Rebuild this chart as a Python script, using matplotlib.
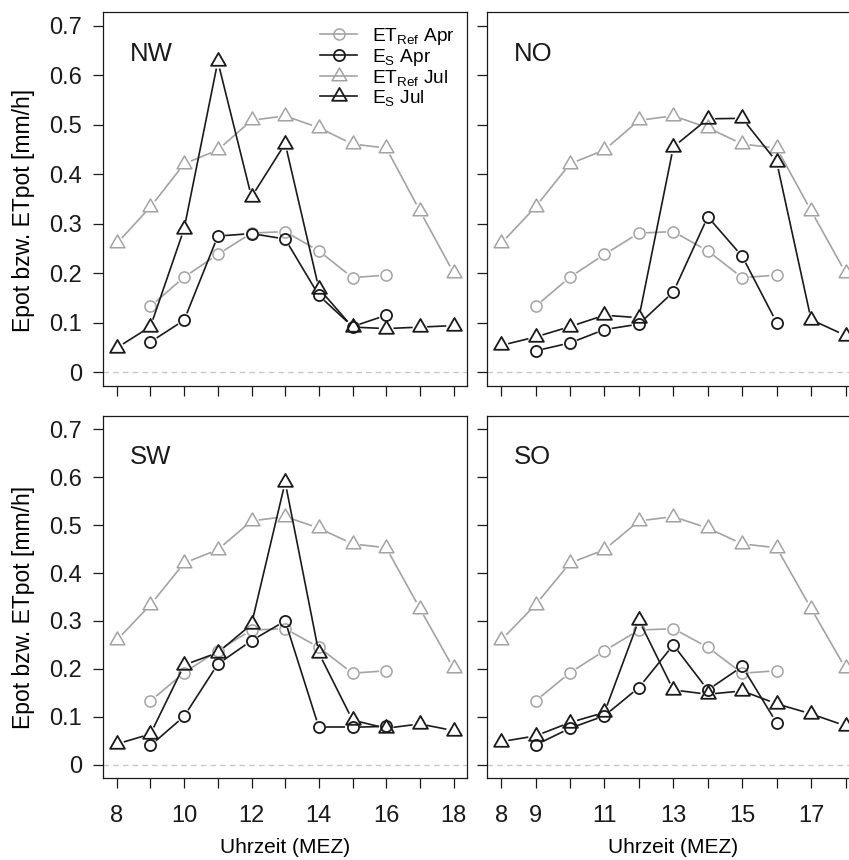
import numpy as np
import matplotlib.pyplot as plt
from matplotlib.path import Path
from matplotlib.lines import Line2D

plt.rcParams['font.family'] = ['Liberation Sans', 'DejaVu Sans']
plt.rcParams['mathtext.default'] = 'regular'

# Stunden (MEZ)
hours_apr = [9, 10, 11, 12, 13, 14, 15, 16]
hours_jul = [8, 9, 10, 11, 12, 13, 14, 15, 16, 17, 18]

# Referenzverdunstung (gleich fuer alle Expositionen)
etref_apr = [0.133, 0.192, 0.238, 0.281, 0.284, 0.245, 0.191, 0.196]
etref_jul = [0.260, 0.334, 0.421, 0.449, 0.509, 0.518, 0.494, 0.461, 0.453, 0.326, 0.201]

# E_S je Exposition
es_apr_nw = [0.061, 0.105, 0.275, 0.280, 0.269, 0.155, 0.092, 0.115]
es_jul_nw = [0.049, 0.092, 0.290, 0.628, 0.354, 0.462, 0.169, 0.091, 0.088, 0.091, 0.094]

es_apr_no = [0.043, 0.059, 0.086, 0.097, 0.162, 0.314, 0.234, 0.100]
es_jul_no = [0.054, 0.071, 0.092, 0.115, 0.110, 0.455, 0.512, 0.513, 0.425, 0.106, 0.074]

es_apr_sw = [0.040, 0.101, 0.210, 0.259, 0.300, 0.078, 0.078, 0.080]
es_jul_sw = [0.043, 0.064, 0.208, 0.234, 0.293, 0.590, 0.233, 0.093, 0.076, 0.085, 0.071]

es_apr_so = [0.041, 0.076, 0.102, 0.161, 0.250, 0.156, 0.205, 0.087]
es_jul_so = [0.048, 0.060, 0.088, 0.109, 0.302, 0.156, 0.147, 0.154, 0.127, 0.106, 0.081]

panels = ['NW', 'NO', 'SW', 'SO']
es_apr = [es_apr_nw, es_apr_no, es_apr_sw, es_apr_so]
es_jul = [es_jul_nw, es_jul_no, es_jul_sw, es_jul_so]

yticks = [0, 0.1, 0.2, 0.3, 0.4, 0.5, 0.6, 0.7]
ytick_labels = ['0', '0.1', '0.2', '0.3', '0.4', '0.5', '0.6', '0.7']
xticks = list(range(8, 19))
xlabels_left = [8, 10, 12, 14, 16, 18]
xlabels_right = [8, 9, 11, 13, 15, 17]

GRAY = '#a3a3a3'
BLACK = '#1a1a1a'

tri = Path([(0, 1), (-0.866, -0.5), (0.866, -0.5), (0, 1)], closed=True)


def gap_line(ax, x, y, color, lw, gap=7.3):
    # Linien mit Luecken um die Punkte (wie type="b")
    pts = ax.transData.transform(np.column_stack([x, y]))
    inv = ax.transData.inverted()
    for p0, p1 in zip(pts[:-1], pts[1:]):
        d = p1 - p0
        L = np.hypot(d[0], d[1])
        if L <= 2 * gap:
            continue
        seg = inv.transform(np.array([p0 + d * gap / L, p1 - d * gap / L]))
        ax.plot(seg[:, 0], seg[:, 1], color=color, lw=lw, solid_capstyle='butt')


def series(ax, x, y, color, marker, ms, mew):
    gap_line(ax, x, y, color, 1.2)
    ax.plot(x, y, ls='none', marker=marker, ms=ms, mfc='none', mec=color, mew=mew)


fig = plt.figure(figsize=(8.49, 8.6), dpi=100)
pos = [[0.1217, 0.5512, 0.4284, 0.4349],
       [0.5740, 0.5512, 0.4382, 0.4349],
       [0.1217, 0.0953, 0.4284, 0.4209],
       [0.5740, 0.0953, 0.4382, 0.4209]]

for i, name in enumerate(panels):
    ax = fig.add_axes(pos[i])
    ax.set_xlim(7.6, 18.4)
    ax.set_ylim(-0.028, 0.728)
    ax.axhline(0, color='#c8c8c8', lw=1.0, ls=(0, (4, 3)))

    series(ax, hours_apr, etref_apr, GRAY, 'o', 8, 1.1)
    series(ax, hours_jul, etref_jul, GRAY, tri, 12.3, 1.1)
    series(ax, hours_apr, es_apr[i], BLACK, 'o', 8, 1.3)
    series(ax, hours_jul, es_jul[i], BLACK, tri, 12.3, 1.3)

    ax.text(8.38, 0.628, name, fontsize=18.5, color=BLACK, va='baseline', ha='left')

    ax.set_yticks(yticks)
    ax.set_xticks(xticks)
    ax.tick_params(direction='out', length=7.2, width=0.9, colors=BLACK,
                   labelsize=17)
    ax.tick_params(axis='x', pad=12)
    ax.tick_params(axis='y', pad=8)
    for s in ax.spines.values():
        s.set_linewidth(0.9)
        s.set_color(BLACK)

    if i % 2 == 0:
        ax.set_yticklabels(ytick_labels)
        ax.set_ylabel('Epot bzw. ETpot [mm/h]', fontsize=16.5, labelpad=10)
        ax.yaxis.label.set_y(0.47)
    else:
        ax.set_yticklabels([])

    if i < 2:
        ax.set_xticklabels([])
    else:
        lab = xlabels_left if i == 2 else xlabels_right
        ax.set_xticklabels([str(h) if h in lab else '' for h in xticks])
        ax.set_xlabel('Uhrzeit (MEZ)', fontsize=15, labelpad=8)

    if i == 0:
        handles = [
            Line2D([], [], color=GRAY, lw=1.2, marker='o', ms=8, mfc='none', mec=GRAY, mew=1.1),
            Line2D([], [], color=BLACK, lw=1.2, marker='o', ms=8, mfc='none', mec=BLACK, mew=1.3),
            Line2D([], [], color=GRAY, lw=1.2, marker=tri, ms=12.3, mfc='none', mec=GRAY, mew=1.1),
            Line2D([], [], color=BLACK, lw=1.2, marker=tri, ms=12.3, mfc='none', mec=BLACK, mew=1.3),
        ]
        labels = ['ET$_{Ref}$ Apr', 'E$_S$ Apr', 'ET$_{Ref}$ Jul', 'E$_S$ Jul']
        ax.legend(handles, labels, loc='upper left', bbox_to_anchor=(0.596, 0.962),
                  frameon=False, fontsize=13.8, handlelength=1.93, handletextpad=0.8,
                  labelspacing=0.0, borderpad=0, borderaxespad=0)

fig.savefig('out.png', dpi=100)
